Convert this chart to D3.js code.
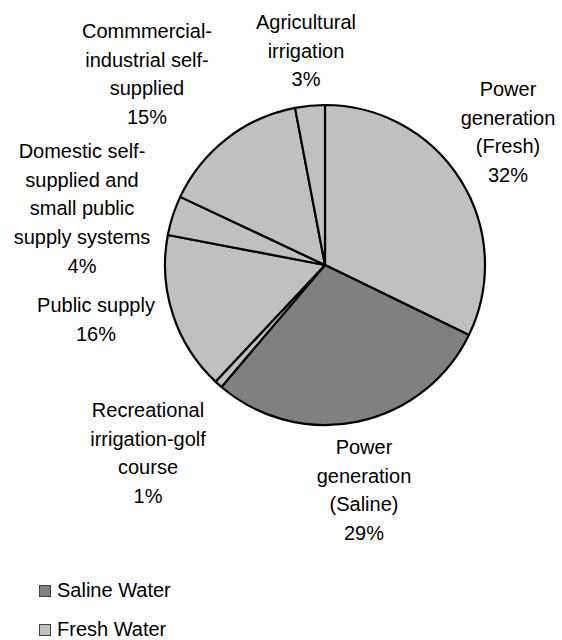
<!DOCTYPE html>
<html>
<head>
<meta charset="utf-8">
<script src="https://cdn.jsdelivr.net/npm/d3@7"></script>
<style>
  body { margin: 0; background: #fff; }
  svg { display: block; font-family: "Liberation Sans", Arial, sans-serif; }
</style>
</head>
<body>
<svg id="chart" width="562" height="640"></svg>
<script>
// data, clockwise from 12 o'clock
const categories = [
  'Power generation (Fresh)',
  'Power generation (Saline)',
  'Recreational irrigation-golf course',
  'Public supply',
  'Domestic self-supplied and small public supply systems',
  'Commmercial-industrial self-supplied',
  'Agricultural irrigation'
];
const values = [32.2, 29.0, 0.8, 16.0, 4.0, 15.0, 3.0];
const waterType = ['Fresh', 'Saline', 'Fresh', 'Fresh', 'Fresh', 'Fresh', 'Fresh'];
const labelLines = [
  ['Power', 'generation', '(Fresh)'],
  ['Power', 'generation', '(Saline)'],
  ['Recreational', 'irrigation-golf', 'course'],
  ['Public supply'],
  ['Domestic self-', 'supplied and', 'small public', 'supply systems'],
  ['Commmercial-', 'industrial self-', 'supplied'],
  ['Agricultural', 'irrigation']
];
const legendLabels = ['Saline Water', 'Fresh Water'];

// layout (label centre x, first baseline y)
const labelPos = [
  [508, 96], [364, 454], [148, 417], [96, 312], [82, 158], [147, 38], [306, 29]
];

const svg = d3.select('#chart');
const cx = 325, cy = 265, radius = 160;
const lineH = 28.7;

const color = d3.scaleOrdinal()
  .domain(['Saline', 'Fresh'])
  .range(['#808080', '#c0c0c0']);

const pie = d3.pie().sort(null).value(d => d);
const arc = d3.arc().innerRadius(0).outerRadius(radius);

const g = svg.append('g').attr('transform', `translate(${cx},${cy})`);

g.selectAll('path')
  .data(pie(values))
  .enter()
  .append('path')
  .attr('d', arc)
  .attr('fill', (d, i) => color(waterType[i]))
  .attr('stroke', '#000')
  .attr('stroke-width', 2.2)
  .attr('stroke-linejoin', 'round');

const pct = d3.format('.0%');

// slice labels
categories.forEach((c, i) => {
  const lines = labelLines[i].concat([pct(values[i] / 100)]);
  const t = svg.append('text')
    .attr('text-anchor', 'middle')
    .attr('font-size', 20)
    .attr('fill', '#000');
  lines.forEach((s, j) => {
    t.append('tspan')
      .attr('x', labelPos[i][0])
      .attr('y', labelPos[i][1] + j * lineH)
      .text(s);
  });
});

// legend
const legend = svg.append('g').attr('transform', 'translate(39,585)');
legendLabels.forEach((s, i) => {
  const row = legend.append('g').attr('transform', `translate(0,${i * 39})`);
  row.append('rect')
    .attr('x', 0.5).attr('y', 0.5)
    .attr('width', 11).attr('height', 11)
    .attr('fill', color(s.split(' ')[0]))
    .attr('stroke', '#404040')
    .attr('stroke-width', 1);
  row.append('text')
    .attr('x', 18)
    .attr('y', 12)
    .attr('font-size', 20)
    .attr('fill', '#000')
    .text(s);
});
</script>
</body>
</html>
